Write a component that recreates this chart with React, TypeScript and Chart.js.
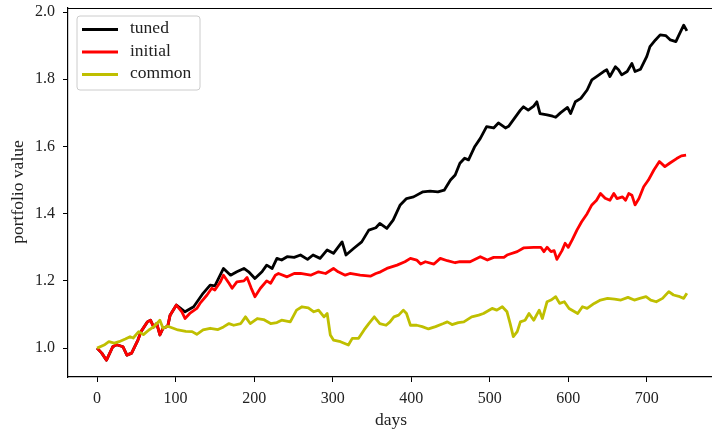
import React, { useEffect, useRef } from "react";
import { Chart, registerables } from "chart.js";

Chart.register(...registerables);

const seriesLabels = ["tuned", "initial", "common"];
const seriesColors = ["#000000", "#ff0000", "#bfbf00"];

const initialDays = [0, 6, 12, 20, 25, 33, 38, 44, 52, 56, 64, 68, 72, 76, 80, 84, 90, 93, 101, 108, 112, 118, 127, 131, 140, 146, 150, 157, 161, 168, 172, 178, 187, 191, 196, 201, 208, 216, 221, 227, 231, 242, 251, 259, 272, 282, 291, 301, 307, 316, 322, 335, 348, 355, 361, 369, 382, 392, 399, 407, 412, 418, 429, 437, 446, 456, 462, 475, 488, 497, 505, 518, 522, 535, 543, 556, 565, 569, 573, 578, 582, 585.5, 592, 596, 600, 605, 611, 617, 624, 630, 636, 641, 647, 653, 658, 662, 669, 673, 677, 681, 685, 690, 696, 702, 709, 716, 723, 729, 738, 744, 750];
const initialValues = [1.0, 0.985, 0.964, 1.004, 1.01, 1.004, 0.979, 0.985, 1.024, 1.049, 1.078, 1.083, 1.063, 1.073, 1.039, 1.059, 1.065, 1.098, 1.128, 1.108, 1.088, 1.103, 1.118, 1.133, 1.158, 1.178, 1.173, 1.197, 1.217, 1.193, 1.178, 1.197, 1.2, 1.21, 1.18, 1.153, 1.178, 1.2, 1.193, 1.217, 1.222, 1.212, 1.222, 1.222, 1.217, 1.227, 1.222, 1.237, 1.227, 1.217, 1.222, 1.217, 1.214, 1.222, 1.227, 1.237, 1.247, 1.257, 1.267, 1.262, 1.25, 1.257, 1.25, 1.267, 1.26, 1.254, 1.257, 1.257, 1.272, 1.262, 1.27, 1.27, 1.277, 1.287, 1.298, 1.3, 1.3, 1.287, 1.3, 1.287, 1.29, 1.264, 1.29, 1.312, 1.3, 1.322, 1.351, 1.376, 1.4, 1.426, 1.44, 1.46, 1.446, 1.44, 1.46, 1.445, 1.45, 1.44, 1.46, 1.455, 1.426, 1.445, 1.48, 1.5, 1.53, 1.555, 1.54, 1.55, 1.564, 1.572, 1.574];

const tunedDays = [0, 6, 12, 20, 25, 33, 38, 44, 52, 56, 64, 68, 72, 76, 80, 84, 90, 93, 101, 108, 112, 123, 135, 144, 150, 161, 170, 178, 187, 193, 201, 210, 216, 223, 229, 235, 242, 251, 259, 268, 275, 284, 293, 301, 312, 317, 327, 337, 346, 355, 360, 369, 377, 386, 394, 403, 415, 424, 434, 442, 450, 456, 462, 468, 473, 481, 488, 496, 505, 511, 520, 524, 530, 539, 543, 549, 556, 560, 564, 573, 580, 584, 590, 599, 603, 609, 616, 624, 630, 636, 645, 649, 653, 660, 664, 668, 675, 681, 685, 692, 700, 704, 711, 717, 724, 730, 737, 741, 747, 751];
const tunedValues = [1.0, 0.985, 0.964, 1.004, 1.01, 1.004, 0.979, 0.985, 1.024, 1.049, 1.078, 1.083, 1.063, 1.073, 1.039, 1.059, 1.065, 1.098, 1.128, 1.115, 1.108, 1.123, 1.163, 1.1875, 1.185, 1.237, 1.217, 1.227, 1.237, 1.227, 1.207, 1.227, 1.247, 1.237, 1.267, 1.262, 1.272, 1.27, 1.277, 1.264, 1.277, 1.267, 1.292, 1.282, 1.316, 1.277, 1.297, 1.316, 1.351, 1.358, 1.371, 1.356, 1.381, 1.426, 1.445, 1.45, 1.465, 1.467, 1.465, 1.47, 1.5, 1.515, 1.55, 1.565, 1.56, 1.6, 1.624, 1.659, 1.655, 1.67, 1.655, 1.66, 1.679, 1.708, 1.718, 1.708, 1.72, 1.733, 1.698, 1.694, 1.69, 1.687, 1.7, 1.716, 1.698, 1.733, 1.743, 1.768, 1.798, 1.808, 1.823, 1.828, 1.808, 1.837, 1.828, 1.813, 1.823, 1.847, 1.823, 1.83, 1.868, 1.897, 1.917, 1.932, 1.93, 1.917, 1.912, 1.932, 1.961, 1.944];

const commonDays = [0, 9, 15, 22, 28, 36, 42, 46, 53, 59, 66, 72, 80, 84, 90, 97, 103, 113, 121, 127, 135, 144, 154, 161, 168, 174, 183, 189, 195, 204, 212, 221, 229, 235, 246, 254, 261, 269, 276, 282, 289, 293, 297, 301, 310, 320, 325, 333, 340, 346, 353, 360, 368, 373, 378, 384, 390, 394, 399, 407, 414, 422, 431, 441, 446, 452, 460, 467, 477, 486, 492, 503, 509, 516, 522, 526, 530, 535, 539, 545, 550, 556, 563, 567, 573, 578, 584, 589, 595, 601, 612, 618, 624, 633, 641, 650, 659, 667, 676, 684, 691, 699, 705, 712, 720, 728, 734, 742, 747, 751];
const commonValues = [1.0, 1.009, 1.019, 1.015, 1.019, 1.027, 1.034, 1.03, 1.049, 1.04, 1.054, 1.063, 1.083, 1.059, 1.065, 1.059, 1.054, 1.05, 1.049, 1.041, 1.054, 1.059, 1.055, 1.063, 1.073, 1.068, 1.073, 1.093, 1.073, 1.088, 1.085, 1.073, 1.076, 1.083, 1.078, 1.113, 1.123, 1.12, 1.108, 1.113, 1.093, 1.103, 1.039, 1.024, 1.019, 1.009, 1.029, 1.029, 1.054, 1.073, 1.093, 1.073, 1.068, 1.078, 1.093, 1.098, 1.113, 1.103, 1.068, 1.068, 1.064, 1.057, 1.064, 1.073, 1.078, 1.07, 1.076, 1.078, 1.093, 1.098, 1.103, 1.118, 1.113, 1.123, 1.108, 1.073, 1.034, 1.049, 1.078, 1.083, 1.103, 1.083, 1.113, 1.088, 1.138, 1.143, 1.153, 1.133, 1.138, 1.118, 1.103, 1.123, 1.118, 1.133, 1.143, 1.148, 1.146, 1.143, 1.151, 1.143, 1.148, 1.153, 1.143, 1.138, 1.148, 1.168, 1.158, 1.153, 1.148, 1.163];

const xTicks = [0, 100, 200, 300, 400, 500, 600, 700];
const yTicks = [1.0, 1.2, 1.4, 1.6, 1.8, 2.0];
const xTitle = "days";
const yTitle = "portfolio value";

const FONT = "'Liberation Serif', serif";
const TEXT = "#222";

function toPoints(days: number[], values: number[]) {
  return days.map((d, i) => ({ x: d, y: values[i] }));
}

const framePlugin = {
  id: "frameAndLegend",
  afterDraw(chart: any) {
    const ctx = chart.ctx;
    const a = chart.chartArea;
    ctx.save();
    ctx.strokeStyle = "#000";
    ctx.lineWidth = 1.2;
    ctx.beginPath();
    ctx.moveTo(a.left, a.top + 0.5);
    ctx.lineTo(a.right, a.top + 0.5);
    ctx.stroke();

    // axis titles
    ctx.fillStyle = TEXT;
    ctx.font = `17.5px ${FONT}`;
    ctx.textAlign = "center";
    ctx.textBaseline = "middle";
    ctx.fillText(xTitle, 391, 420);
    ctx.save();
    ctx.translate(18.5, 192);
    ctx.rotate(-Math.PI / 2);
    ctx.fillText(yTitle, 0, 0);
    ctx.restore();

    // legend
    const lx = 77, ly = 16, lw = 123, lh = 74, r = 3;
    ctx.beginPath();
    ctx.moveTo(lx + r, ly);
    ctx.lineTo(lx + lw - r, ly);
    ctx.quadraticCurveTo(lx + lw, ly, lx + lw, ly + r);
    ctx.lineTo(lx + lw, ly + lh - r);
    ctx.quadraticCurveTo(lx + lw, ly + lh, lx + lw - r, ly + lh);
    ctx.lineTo(lx + r, ly + lh);
    ctx.quadraticCurveTo(lx, ly + lh, lx, ly + lh - r);
    ctx.lineTo(lx, ly + r);
    ctx.quadraticCurveTo(lx, ly, lx + r, ly);
    ctx.closePath();
    ctx.fillStyle = "rgba(255,255,255,0.8)";
    ctx.fill();
    ctx.strokeStyle = "#cccccc";
    ctx.lineWidth = 1;
    ctx.stroke();

    const rowsY = [29.5, 52, 74.5];
    ctx.font = `17.5px ${FONT}`;
    ctx.textBaseline = "middle";
    ctx.textAlign = "left";
    seriesLabels.forEach((lab, i) => {
      ctx.strokeStyle = seriesColors[i];
      ctx.lineWidth = 2.8;
      ctx.beginPath();
      ctx.moveTo(82, rowsY[i]);
      ctx.lineTo(118, rowsY[i]);
      ctx.stroke();
      ctx.fillStyle = TEXT;
      ctx.fillText(lab, 130, rowsY[i] - 1);
    });
    ctx.restore();
  },
};

export default function App() {
  const ref = useRef<HTMLCanvasElement | null>(null);
  useEffect(() => {
    document.body.style.margin = "0";
    if (!ref.current) return;
    const chart = new Chart(ref.current, {
      type: "line",
      data: {
        datasets: [
          { label: seriesLabels[0], data: toPoints(tunedDays, tunedValues), borderColor: seriesColors[0], order: 2 },
          { label: seriesLabels[1], data: toPoints(initialDays, initialValues), borderColor: seriesColors[1], order: 1 },
          { label: seriesLabels[2], data: toPoints(commonDays, commonValues), borderColor: seriesColors[2], order: 0 },
        ].map((d) => ({
          ...d,
          borderWidth: 2.8,
          pointRadius: 0,
          tension: 0,
          fill: false,
          borderJoinStyle: "round" as const,
        })),
      },
      options: {
        animation: false,
        responsive: false,
        devicePixelRatio: 1,
        layout: { padding: { top: 8, left: 0, right: 0, bottom: 0 } },
        plugins: { legend: { display: false }, tooltip: { enabled: false } },
        scales: {
          x: {
            type: "linear",
            min: -37,
            max: 783,
            afterBuildTicks: (s: any) => {
              s.ticks = xTicks.map((v) => ({ value: v }));
            },
            afterFit: (s: any) => {
              s.height = 52;
              s.paddingLeft = 0;
              s.paddingRight = 0;
            },
            grid: { drawOnChartArea: false, drawTicks: true, tickLength: 5, color: "#000", lineWidth: 1 },
            border: { display: true, color: "#000", width: 1.2 },
            ticks: { color: TEXT, font: { family: FONT, size: 16 }, padding: 7, maxRotation: 0 },
          },
          y: {
            type: "linear",
            min: 0.914,
            max: 2.012,
            afterBuildTicks: (s: any) => {
              s.ticks = yTicks.map((v) => ({ value: v }));
            },
            afterFit: (s: any) => {
              s.width = 68;
              s.paddingTop = 0;
              s.paddingBottom = 0;
            },
            grid: { drawOnChartArea: false, drawTicks: true, tickLength: 5, color: "#000", lineWidth: 1 },
            border: { display: true, color: "#000", width: 1.2 },
            ticks: {
              color: TEXT,
              font: { family: FONT, size: 16 },
              padding: 8,
              callback: (v: any) => Number(v).toFixed(1),
            },
          },
        },
      },
      plugins: [framePlugin],
    });
    return () => chart.destroy();
  }, []);
  return (
    <div style={{ width: 712, height: 429 }}>
      <canvas ref={ref} width={712} height={429} style={{ display: "block" }} />
    </div>
  );
}
